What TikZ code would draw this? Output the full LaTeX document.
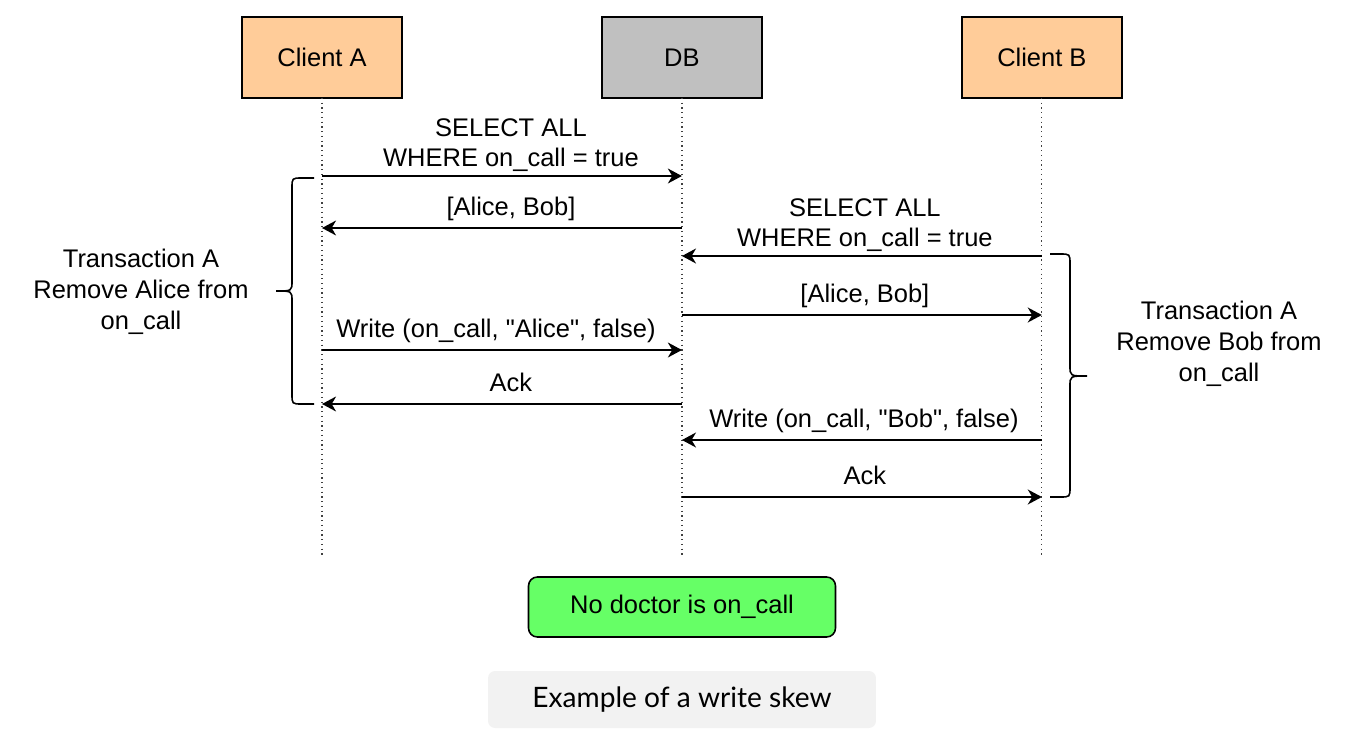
\documentclass[tikz,border=0pt]{standalone}
\usepackage{fontspec}
\setmainfont{Liberation Sans}[Ligatures=TeXOff]
\newfontfamily\capfont{Lato}
\usetikzlibrary{arrows.meta,positioning,calc}
\definecolor{clientfill}{HTML}{FFCC99}
\definecolor{dbfill}{HTML}{C0C0C0}
\definecolor{okfill}{HTML}{66FF66}
\definecolor{capfill}{HTML}{F2F2F2}
\tikzset{
    actor/.style={
        rectangle,
        draw=black,
        line width=0.9pt,
        fill=clientfill,
        outer sep=0pt,
        minimum width=3.2cm,
        minimum height=1.62cm,
    },
    life/.style={
        dotted,
        draw=black!75,
        line width=0.7pt,
    },
    msg/.style={
        draw,
        ->,>={Stealth[length=8pt,width=8.5pt,inset=2.5pt]},
        line width=1pt,
    },
    lbl/.style={
        midway,
        above=0.5pt,
        inner sep=1pt,
        align=center,
        execute at end node=\strut,
    },
    curly/.style={
        draw,
        line width=0.9pt,
    },
    okbox/.style={
        rectangle,
        rounded corners=5pt,
        draw=black,
        line width=0.9pt,
        fill=okfill,
        minimum width=6.14cm,
        minimum height=1.2cm,
    },
    capbox/.style={
        rectangle,
        rounded corners=4pt,
        fill=capfill,
        minimum width=7.76cm,
        minimum height=1.14cm,
        font=\capfont\fontsize{16}{19}\selectfont,
    },
    node distance=4cm,
}

\begin{document}
\begin{tikzpicture}[x=0.02cm,y=-0.02cm,font=\fontsize{14.5}{17}\selectfont]
    \useasboundingbox (0,0) rectangle (1350,754);

    \node [actor] (ca) at (322,57.5) {Client A};
    \node [actor, fill=dbfill, right=of ca] (db) {DB};
    \node [actor, right=of db] (cb) {Client B};

    \coordinate (bottom) at (0,557);
    \draw [life] (ca) -- (ca |- bottom);
    \draw [life] (db) -- (db |- bottom);
    \draw [life] (cb) -- (cb |- bottom);

    \coordinate (m1) at (0,176);
    \coordinate (m2) at (0,228);
    \coordinate (m3) at (0,256);
    \coordinate (m4) at (0,315);
    \coordinate (m5) at (0,350);
    \coordinate (m6) at (0,404);
    \coordinate (m7) at (0,440);
    \coordinate (m8) at (0,497);

    \draw [msg] (ca |- m1) -- (db |- m1) node [lbl, xshift=0.18cm, yshift=-0.05cm] {SELECT ALL\\WHERE on\_call = true};
    \draw [msg] (db |- m2) -- (ca |- m2) node [lbl, xshift=0.18cm] {[Alice, Bob]};
    \draw [msg] (cb |- m3) -- (db |- m3) node [lbl, xshift=0.06cm, yshift=-0.05cm] {SELECT ALL\\WHERE on\_call = true};
    \draw [msg] (db |- m4) -- (cb |- m4) node [lbl, xshift=0.06cm] {[Alice, Bob]};
    \draw [msg] (ca |- m5) -- (db |- m5) node [lbl, xshift=-0.12cm] {Write (on\_call, "Alice", false)};
    \draw [msg] (db |- m6) -- (ca |- m6) node [lbl, xshift=0.18cm] {Ack};
    \draw [msg] (cb |- m7) -- (db |- m7) node [lbl, xshift=0.04cm] {Write (on\_call, "Bob", false)};
    \draw [msg] (db |- m8) -- (cb |- m8) node [lbl, xshift=0.06cm] {Ack};

    \draw [curly] (314,178) -- (302,178) .. controls (292,178) .. (292,188) -- (292,281)
        .. controls (292,291) .. (276,291) .. controls (292,291) .. (292,301) -- (292,394)
        .. controls (292,404) .. (302,404) -- (314,404);
    \draw [curly] (1050,254) -- (1060,254) .. controls (1070,254) .. (1070,264) -- (1070,366)
        .. controls (1070,376) .. (1087,376) .. controls (1070,376) .. (1070,386) -- (1070,487)
        .. controls (1070,497) .. (1060,497) -- (1050,497);

    \node [align=center, font=\fontsize{14.5}{17.8}\selectfont] (txa) at (141,292) {Transaction A\\Remove Alice from\\on\_call};
    \node [align=center, font=\fontsize{14.5}{17.8}\selectfont] (txb) at (1219,344) {Transaction A\\Remove Bob from\\on\_call};

    \node [okbox] (result) at (682,607) {No doctor is on\_call};
    \node [capbox] (caption) at (682,699.5) {Example of a write skew};
\end{tikzpicture}
\end{document}
